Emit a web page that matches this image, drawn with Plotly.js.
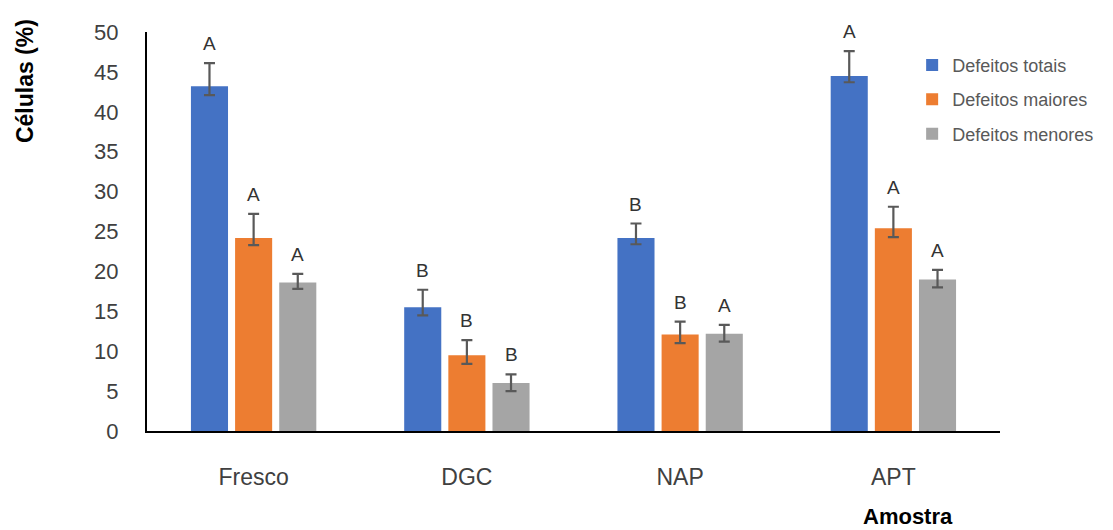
<!DOCTYPE html>
<html>
<head>
<meta charset="utf-8">
<script src="https://cdn.plot.ly/plotly-3.0.1.min.js"></script>
<style>html,body{margin:0;padding:0;background:#fff;}#chart{width:1113px;height:530px;}</style>
</head>
<body>
<div id="chart"></div>
<script>
const categories = ["Fresco", "DGC", "NAP", "APT"];
const seriesNames = ["Defeitos totais", "Defeitos maiores", "Defeitos menores"];
const totais = [43.2, 15.5, 24.2, 44.5];
const maiores = [24.2, 9.5, 12.1, 25.4];
const menores = [18.6, 6.0, 12.2, 19.0];
const totaisErrPlus = [2.9, 2.2, 1.8, 3.1];
const totaisErrMinus = [1.1, 1.0, 0.8, 0.8];
const maioresErrPlus = [3.0, 1.9, 1.6, 2.7];
const maioresErrMinus = [0.9, 1.1, 1.1, 1.1];
const menoresErrPlus = [1.1, 1.1, 1.1, 1.2];
const menoresErrMinus = [0.8, 1.0, 1.0, 1.0];
const totaisLetters = ["A", "B", "B", "A"];
const maioresLetters = ["A", "B", "B", "A"];
const menoresLetters = ["A", "B", "A", "A"];

const colors = ["#4472C4", "#ED7D31", "#A5A5A5"];
const values = [totais, maiores, menores];
const errPlus = [totaisErrPlus, maioresErrPlus, menoresErrPlus];
const errMinus = [totaisErrMinus, maioresErrMinus, menoresErrMinus];
const letters = [totaisLetters, maioresLetters, menoresLetters];

const bargap = 0.379, bargroupgap = 0.16;
const slot = (1 - bargap) / 3;

const traces = values.map((v, s) => ({
  type: "bar",
  name: seriesNames[s],
  x: categories,
  y: v,
  legendgroup: "g" + s,
  marker: {color: colors[s], line: {width: 0}},
  error_y: {type: "data", symmetric: false, array: errPlus[s], arrayminus: errMinus[s],
            color: "#595959", thickness: 2.2, width: 5.5},
  hoverinfo: "x+y+name"
}));

const annotations = [];
values.forEach((v, s) => {
  v.forEach((val, i) => {
    annotations.push({
      xref: "x", yref: "y", x: i + (s - 1) * slot, y: val + errPlus[s][i],
      text: letters[s][i], showarrow: false, yanchor: "bottom", yshift: 7,
      font: {family: "Liberation Sans, Arial, sans-serif", size: 19, color: "#333333"}
    });
  });
});
annotations.push({
  xref: "paper", yref: "paper", x: -0.143, y: 0.877, text: "<b>Células (%)</b>",
  textangle: -90, showarrow: false, xanchor: "center", yanchor: "middle",
  font: {family: "Liberation Sans, Arial, sans-serif", size: 23, color: "#000000"}
});
annotations.push({
  xref: "paper", yref: "paper", x: 0.892, y: -0.215, text: "<b>Amostra</b>",
  showarrow: false, xanchor: "center", yanchor: "middle",
  font: {family: "Liberation Sans, Arial, sans-serif", size: 22, color: "#000000"}
});

const layout = {
  width: 1113, height: 530,
  margin: {l: 147, r: 113, t: 32, b: 99, pad: 0},
  paper_bgcolor: "#ffffff", plot_bgcolor: "#ffffff",
  barmode: "group", bargap: bargap, bargroupgap: bargroupgap,
  font: {family: "Liberation Sans, Arial, sans-serif", color: "#404040"},
  xaxis: {
    type: "category", showline: true, linecolor: "#000000", linewidth: 2,
    ticks: "", showgrid: false, zeroline: false,
    tickfont: {size: 23, color: "#404040"}, ticklabelstandoff: 24
  },
  yaxis: {
    range: [0, 50], dtick: 5, showline: true, linecolor: "#000000", linewidth: 2,
    ticks: "", showgrid: false, zeroline: false,
    tickfont: {size: 22, color: "#404040"}, ticklabelstandoff: 22
  },
  showlegend: true,
  legend: {
    x: 0.897, y: 0.963, xanchor: "left", yanchor: "top",
    traceorder: "grouped", tracegroupgap: 8,
    font: {size: 18, color: "#595959"}, bgcolor: "rgba(0,0,0,0)"
  },
  annotations: annotations
};

Plotly.newPlot("chart", traces, layout, {displayModeBar: false, staticPlot: true});
</script>
</body>
</html>
